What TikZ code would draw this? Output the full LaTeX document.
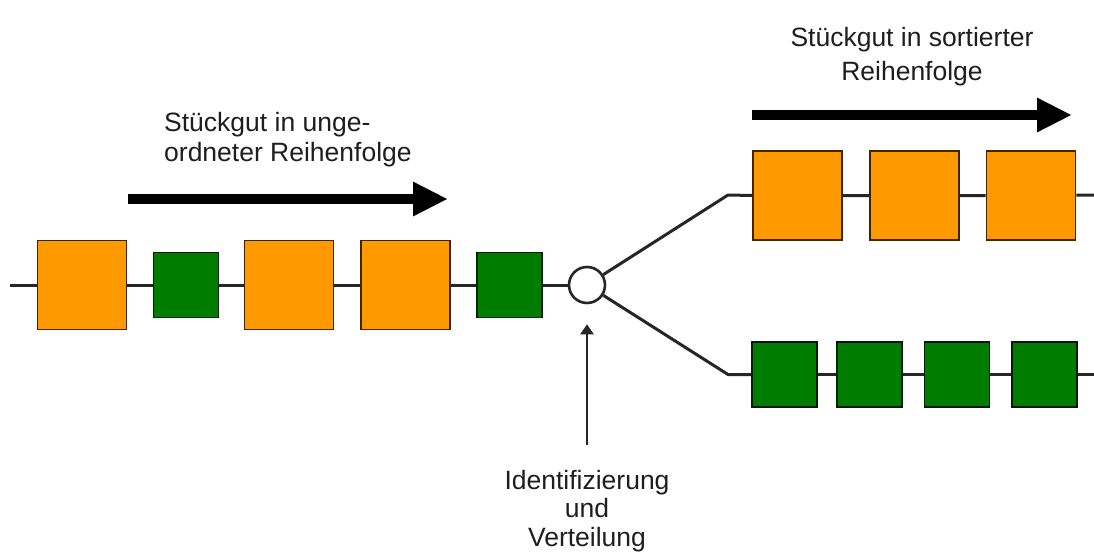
\documentclass[tikz,border=0pt]{standalone}
\usepackage{fontspec}
\setmainfont{Liberation Sans}
\usetikzlibrary{arrows.meta}
\definecolor{myorange}{RGB}{255,153,0}
\definecolor{mygreen}{RGB}{0,125,0}
\definecolor{txtgray}{RGB}{30,30,30}
\begin{document}
\begin{tikzpicture}[x=1pt,y=-1pt,
  wire/.style={line width=3pt, draw=black!85},
  obox/.style={draw=black!75!myorange, line width=1.8pt, fill=myorange,
    minimum width=89pt, minimum height=89pt, inner sep=0pt},
  gbox/.style={draw=black!75!mygreen, line width=1.8pt, fill=mygreen,
    minimum width=65pt, minimum height=65pt, inner sep=0pt},
  lbl/.style={text=txtgray, inner sep=0pt},
  bigarrow/.style={line width=10pt, draw=black, -{Triangle[length=35pt,width=32pt]}},
  thinarrow/.style={line width=2.8pt, draw=black!85, -{Triangle[length=10pt,width=13pt]}}]
\useasboundingbox (0,0) rectangle (1094,557);
\fill[white] (0,0) rectangle (1094,557);
% left row
\coordinate (lstart) at (10,285);
\node[obox] (o1) at (82,285) {};
\node[gbox] (g1) at (186,285) {};
\node[obox] (o2) at (289,285) {};
\node[obox] (o3) at (405.5,285) {};
\node[gbox] (g2) at (509.5,285) {};
\node[draw=black!85, line width=2.6pt, fill=white, circle, minimum size=36pt, inner sep=0pt] (c) at (587,285) {};
\draw[wire] (lstart) -- (o1) (o1) -- (g1) (g1) -- (o2) (o2) -- (o3) (o3) -- (g2) (g2) -- (c);
% upper branch
\coordinate (uc) at (728,195);
\node[obox] (ro1) at (797.5,195.5) {};
\node[obox] (ro2) at (914.5,195.5) {};
\node[obox] (ro3) at (1031,195.5) {};
\coordinate (uend) at (1094,195);
\draw[wire, line join=round] (c) -- (uc) -- (ro1.west);
\draw[wire] (ro1) -- (ro2) (ro2) -- (ro3) (ro3) -- (uend);
% lower branch
\coordinate (lc) at (728,374.5);
\node[gbox] (rg1) at (784.5,374.5) {};
\node[gbox] (rg2) at (869.5,374.5) {};
\node[gbox] (rg3) at (957,374.5) {};
\node[gbox] (rg4) at (1044.5,374.5) {};
\coordinate (lend) at (1094,374.5);
\draw[wire, line join=round] (c) -- (lc) -- (rg1.west);
\draw[wire] (rg1) -- (rg2) (rg2) -- (rg3) (rg3) -- (rg4) (rg4) -- (lend);
% labels
\node[lbl, anchor=west, align=left, font=\fontsize{26.5}{30}\selectfont] (tl) at (164,140)
  {Stückgut in unge-\\ordneter Reihenfolge};
\coordinate (la) at (128,199);
\coordinate (lb) at (448,199);
\draw[bigarrow] (la) -- (lb);
\node[lbl, align=center, font=\fontsize{26.5}{34}\selectfont] (tr) at (912,57)
  {Stückgut in sortierter\\Reihenfolge};
\coordinate (ra) at (752,115);
\coordinate (rb) at (1072,115);
\draw[bigarrow] (ra) -- (rb);
\node[lbl, align=center, font=\fontsize{26.5}{28.5}\selectfont] (id) at (587,511)
  {Identifizierung\\und\\Verteilung};
\draw[thinarrow, shorten <=25pt, shorten >=20pt] (id.north) -- (c.south);
\end{tikzpicture}
\end{document}
